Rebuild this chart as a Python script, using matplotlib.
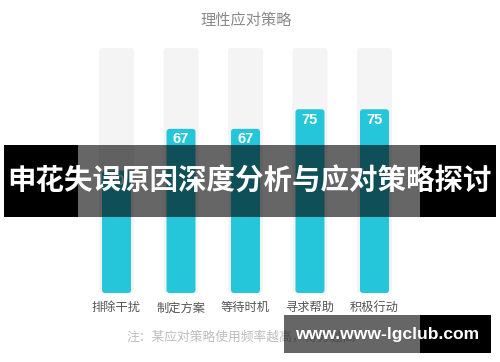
import matplotlib
matplotlib.use("Agg")
import matplotlib.pyplot as plt
from matplotlib.patches import FancyBboxPatch, Rectangle

plt.rcParams['font.family'] = ['Noto Sans CJK SC', 'DejaVu Sans']

# data
categories = ["排除干扰", "制定方案", "等待时机", "寻求帮助", "积极行动"]
values = [50, 67, 67, 75, 75]
track_max = 100
title = "理性应对策略"
note = "注：某应对策略使用频率越高，得分越高"
banner = "申花失误原因深度分析与应对策略探讨"
watermark = "www.www-lgclub.com"

W, H = 500, 362
fig = plt.figure(figsize=(W / 100, H / 100), dpi=100)
fig.patch.set_facecolor("white")

# chart axes, placed in pixels
left, right, top, bottom = 84.25, 406.75, 48, 293
ax = fig.add_axes([left / W, 1 - bottom / H, (right - left) / W, (bottom - top) / H])
ax.set_xlim(-0.5, len(categories) - 0.5)
ax.set_ylim(0, track_max)
for s in ax.spines.values():
    s.set_visible(False)
ax.set_yticks([])
ax.set_xticks(range(len(categories)), categories)
ax.tick_params(axis="x", length=0, pad=6, labelsize=8.8, labelcolor="#555555")

px_x = (right - left) / len(categories)   # pixels per x unit
px_y = (bottom - top) / track_max         # pixels per y unit
r_px = 3
aspect = (r_px / px_y) / (r_px / px_x)


def rbar(x, h, w, color, z):
    p = FancyBboxPatch((x - w / 2, 0), w, h,
                       boxstyle=f"round,pad=0,rounding_size={r_px / px_x}",
                       mutation_aspect=aspect, fc=color, ec="none", zorder=z)
    ax.add_patch(p)


for i, v in enumerate(values):
    rbar(i, track_max, 35 / px_x, "#f4f4f4", 1)
    rbar(i, v, 29 / px_x, "#26c6da", 2)
    ax.text(i, v - 10.5 / px_y, str(v), ha="center", va="center", color="white",
            fontsize=10.5, fontweight="bold", family=["Liberation Sans", "DejaVu Sans"], zorder=3)

fig.text(246 / W, 1 - 20 / H, title, ha="center", va="center", fontsize=11, color="#8a8a8a")
fig.text(126 / W, 1 - 337 / H, note, ha="left", va="center", fontsize=9.2, color="#bdbdbd")

# overlays
ov = fig.add_axes([0, 0, 1, 1], zorder=5)
ov.set_xlim(0, W)
ov.set_ylim(H, 0)
ov.axis("off")
ov.patch.set_alpha(0)

ov.add_patch(Rectangle((4, 145), 74, 72, fc="black", ec="none"))
ov.add_patch(Rectangle((78, 145), 342, 72, fc="black", alpha=0.6, ec="none"))
ov.add_patch(Rectangle((420, 145), 76, 72, fc="black", ec="none"))
ov.text(250, 182, banner, ha="center", va="center", color="white",
        fontsize=20.5, fontweight="bold")

ov.add_patch(Rectangle((284, 315), 136, 38, fc="black", alpha=0.6, ec="none"))
ov.add_patch(Rectangle((420, 315), 71, 38, fc="black", ec="none"))
ov.text(387, 335, watermark, ha="center", va="center", color="white",
        fontsize=12.6, fontweight="bold", family=["Liberation Sans", "DejaVu Sans"])

fig.savefig("out.png", dpi=100)
